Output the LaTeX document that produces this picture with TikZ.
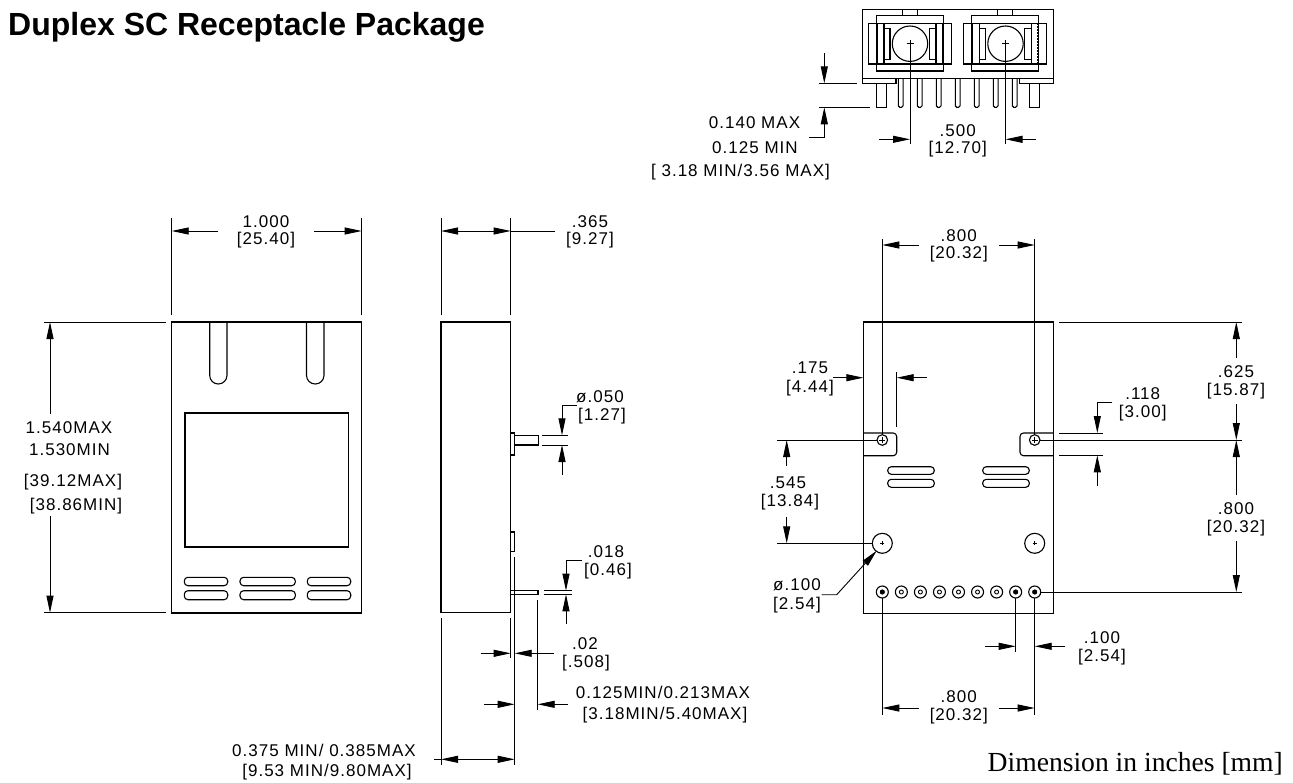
\documentclass[tikz,border=0pt]{standalone}
\usepackage{fontspec}
\setmainfont{Liberation Sans}
\newfontfamily\serifnote{Liberation Serif}
\newfontfamily\dimfont[LetterSpace=6]{Liberation Sans}
\usetikzlibrary{arrows.meta,positioning}

\begin{document}
\begin{tikzpicture}[x=1pt,y=-1pt,>={Stealth[length=17pt,width=7pt,inset=0pt]},
    part/.style={line width=1.1pt}, extl/.style={line width=0.9pt}, dim/.style={extl,->},
    vent/.style={part,rounded corners=3.6pt},
    dimlabel/.style={inner sep=0pt,font=\dimfont\fontsize{17}{19}\selectfont},
    title/.style={inner sep=0pt,anchor=west,font=\bfseries\fontsize{32}{36}\selectfont},
    note/.style={inner sep=0pt,anchor=east,font=\serifnote\fontsize{27.6}{30}\selectfont}]
\useasboundingbox (0,0) rectangle (1293,782);

\node[title] (heading) at (8,27) {Duplex SC Receptacle Package};
\node[note] (units) at (1283,764) {Dimension in inches [mm]};

% front view
\draw[part] (171.7,322) rectangle (361.7,613);
\draw[part,rounded corners=8.6pt] (209.7,322) -- (209.7,384) -- (227,384) -- (227,322);
\draw[part,rounded corners=8.6pt] (306.5,322) -- (306.5,384) -- (324,384) -- (324,322);
\draw[part] (185,413) rectangle (348.7,547);
\foreach \ya/\yb in {577.3/585.7,590.7/599.7} {
  \draw[vent] (184.3,\ya) rectangle (227.7,\yb);
  \draw[vent] (240,\ya) rectangle (295.3,\yb);
  \draw[vent] (307.3,\ya) rectangle (350.7,\yb);
}
\draw[extl] (171.7,218) -- (171.7,315) (361.7,218) -- (361.7,315);
\draw[dim] (218,231) -- (171.7,231);
\draw[dim] (314,231) -- (361.7,231);
\node[dimlabel] (w1) at (266,222) {1.000};
\node[dimlabel] (w2) at (266,240) {[25.40]};
\draw[extl] (44,322) -- (166,322) (44,612.7) -- (166,612.7);
\draw[dim] (50,414) -- (50,322);
\draw[dim] (50,516) -- (50,612.7);
\node[dimlabel] (h1) at (69,428) {1.540MAX};
\node[dimlabel] (h2) at (69.5,450) {1.530MIN};
\node[dimlabel] (h3) at (73,482) {[39.12MAX]};
\node[dimlabel] (h4) at (76,505.6) {[38.86MIN]};

% side view
\draw[part] (441,322) rectangle (510.7,612.7);
\draw[part] (510.7,433) rectangle (514.7,455);
\draw[part] (514.7,435.3) rectangle (538.3,445);
\draw[part] (510.7,532) rectangle (514.7,551.7);
\draw[part] (510.7,590.7) rectangle (538,594.3);
\draw[extl] (441,218) -- (441,315) (510.7,218) -- (510.7,315);
\draw[dim,<->] (441,231) -- (510.7,231);
\draw[extl] (510.7,231) -- (555,231);
\node[dimlabel] (d1) at (590,222) {.365};
\node[dimlabel] (d2) at (590,240) {[9.27]};
\draw[extl] (542,435.3) -- (568,435.3) (542,445) -- (568,445);
\draw[dim] (577.3,405) -- (562,405) -- (562,435.3);
\draw[dim] (562,475) -- (562,445);
\node[dimlabel] (p1) at (600,397) {ø.050};
\node[dimlabel] (p2) at (602,416) {[1.27]};
\draw[extl] (544,590.7) -- (572,590.7) (544,594.3) -- (572,594.3);
\draw[dim] (581.7,560.7) -- (566,560.7) -- (566,590.7);
\draw[dim] (566,624) -- (566,594.3);
\node[dimlabel] (s1) at (606,552) {.018};
\node[dimlabel] (s2) at (608,571) {[0.46]};
\draw[part] (514.7,557) -- (514.7,765);
\draw[extl] (510.7,618) -- (510.7,658);
\draw[dim] (480.7,653.3) -- (510.7,653.3);
\draw[dim] (554,653.3) -- (514.7,653.3);
\node[dimlabel] (t1) at (585,644) {.02};
\node[dimlabel] (t2) at (586,663) {[.508]};
\draw[extl] (537.7,600) -- (537.7,710);
\draw[dim] (484,704.3) -- (514.7,704.3);
\draw[dim] (568,704.3) -- (537.7,704.3);
\node[dimlabel] (l1) at (663,692) {0.125MIN/0.213MAX};
\node[dimlabel] (l2) at (665,715) {[3.18MIN/5.40MAX]};
\draw[extl] (441,618) -- (441,765);
\draw[extl] (434,759.3) -- (441,759.3);
\draw[dim,<->] (441,759.3) -- (514.7,759.3);
\node[dimlabel] (o1) at (324,750) {0.375 MIN/ 0.385MAX};
\node[dimlabel] (o2) at (327,772) {[9.53 MIN/9.80MAX]};

% top view
\draw[part] (862.7,9.3) rectangle (1053.3,78.3);
\draw[part] (862.7,78.3) -- (862.7,83.3) -- (896,83.3) -- (896,78.3);
\draw[part] (1053.3,78.3) -- (1053.3,83.3) -- (1019.3,83.3) -- (1019.3,78.3);
\foreach \dx in {0,95.5} {
  \draw[part] (902.3+\dx,9.3) rectangle (917.3+\dx,15.7);
  \draw[part] (876.3+\dx,15.7) rectangle (943.3+\dx,71);
  \draw[part] (868.3+\dx,23.3) rectangle (951.3+\dx,64);
  \draw[part] (877.3+\dx,23.3) rectangle (884+\dx,64);
  \draw[part] (936+\dx,23.3) rectangle (942.7+\dx,64);
  \draw[part] (884+\dx,28.3) rectangle (890+\dx,59.3);
  \draw[part] (929.3+\dx,28.3) rectangle (936+\dx,59.3);
  \draw[line width=1.6pt] (884+\dx,23.3) -- (936+\dx,23.3) (884+\dx,64) -- (936+\dx,64);
  \draw[part] (910+\dx,43.7) circle (17.7pt);
  \draw[part] (910+\dx-3.5,43.7) -- (910+\dx+3.5,43.7);
}
\draw[extl,dash pattern=on 2pt off 1pt] (1037,23.3) -- (1037,64);
\draw[part] (876.7,83.3) rectangle (886.7,107.3);
\draw[part] (1029.3,83.3) rectangle (1039.3,107.3);
\foreach \cx in {900.7,919.7,938.7,957.7,976.7,995.7,1014.7} {
  \draw[part,rounded corners=1.5pt] (\cx-2.4,79) -- (\cx-2.4,107.3) -- (\cx+2.4,107.3) -- (\cx+2.4,79);
}
\draw[extl] (819.3,83.3) -- (857.3,83.3) (819.3,107.3) -- (870,107.3);
\draw[dim] (824.3,53.3) -- (824.3,83.3);
\draw[dim] (809.3,137.3) -- (824.3,137.3) -- (824.3,107.3);
\node[dimlabel] (m1) at (754.5,122.7) {0.140 MAX};
\node[dimlabel] (m2) at (755,147.7) {0.125 MIN};
\node[dimlabel] (m3) at (740.5,171.7) {[ 3.18 MIN/3.56 MAX]};
\draw[extl] (910,40) -- (910,144) (1005.5,40) -- (1005.5,144);
\draw[dim] (879.3,139.3) -- (910,139.3);
\draw[dim] (1036,139.3) -- (1005.5,139.3);
\node[dimlabel] (c1) at (957.7,130.7) {.500};
\node[dimlabel] (c2) at (957.7,149) {[12.70]};

% back view
\draw[part] (863.3,322) rectangle (1053.3,613.7);
\draw[part,rounded corners=3.5pt] (863.3,433) -- (896.7,433) -- (896.7,455.7) -- (863.3,455.7);
\draw[part,rounded corners=3.5pt] (1053.3,433) -- (1020,433) -- (1020,455.7) -- (1053.3,455.7);
\foreach \ya/\yb in {466.7/474.3,479.3/487.3} {
  \draw[vent] (887.7,\ya) rectangle (934.3,\yb);
  \draw[vent] (982.7,\ya) rectangle (1029.3,\yb);
}
\foreach \cx/\cy/\rr/\ar in {882.3/440/5.3/3,1034.7/440/5.3/3,882.3/543.3/10/2,1034.7/543.3/10/2} {
  \draw[part] (\cx,\cy) circle (\rr pt);
  \draw[extl] (\cx-\ar,\cy) -- (\cx+\ar,\cy) (\cx,\cy-\ar) -- (\cx,\cy+\ar);
}
\foreach \i in {0,...,8} {
  \draw[part] (882.3+19.05*\i,592) circle (6pt);
  \draw[extl] (882.3+19.05*\i,592) circle (2pt);
}
\foreach \i in {0,7,8} {
  \fill (882.3+19.05*\i,592) circle (2.4pt);
}
% back view dimensions
\draw[extl] (882.3,239) -- (882.3,434.7) (1034.7,239) -- (1034.7,434.7);
\draw[dim] (918.8,245) -- (882.3,245);
\draw[dim] (998.8,245) -- (1034.7,245);
\node[dimlabel] (e1) at (958.8,236) {.800};
\node[dimlabel] (e2) at (958.8,254) {[20.32]};
\draw[extl] (896.7,372) -- (896.7,426.7);
\draw[dim] (833,377.7) -- (863.3,377.7);
\draw[dim] (926.7,377.7) -- (896.7,377.7);
\node[dimlabel] (f1) at (810,368) {.175};
\node[dimlabel] (f2) at (810,388) {[4.44]};
\draw[extl] (777,440) -- (877,440) (777,543.3) -- (872.3,543.3);
\draw[dim] (786.7,466) -- (786.7,440);
\draw[dim] (786.7,516.7) -- (786.7,543.3);
\node[dimlabel] (g1) at (788,483) {.545};
\node[dimlabel] (g2) at (790,502) {[13.84]};
\draw[dim] (821.7,594.7) -- (836.7,594.7) -- (876.7,550.7);
\node[dimlabel] (k1) at (797,585) {ø.100};
\node[dimlabel] (k2) at (797,605) {[2.54]};
\draw[extl] (882.3,598) -- (882.3,715) (1034.7,598) -- (1034.7,715);
\draw[extl] (1015.7,598) -- (1015.7,652);
\draw[dim] (918.8,708) -- (882.3,708);
\draw[dim] (998.8,708) -- (1034.7,708);
\node[dimlabel] (q1) at (958.8,697) {.800};
\node[dimlabel] (q2) at (958.8,716) {[20.32]};
\draw[dim] (985,646.3) -- (1015.7,646.3);
\draw[dim] (1065,646.3) -- (1034.7,646.3);
\node[dimlabel] (r1) at (1102,638) {.100};
\node[dimlabel] (r2) at (1102,657) {[2.54]};
\draw[extl] (1059.3,322) -- (1242,322) (1040,440) -- (1242,440) (1040.7,592) -- (1242,592);
\draw[dim] (1236.3,358.3) -- (1236.3,322);
\draw[dim] (1236.3,404.3) -- (1236.3,440);
\draw[dim] (1236.3,495) -- (1236.3,440);
\draw[dim] (1236.3,541) -- (1236.3,592);
\node[dimlabel] (u1) at (1236,372) {.625};
\node[dimlabel] (u2) at (1236,390.7) {[15.87]};
\node[dimlabel] (v1) at (1236,509) {.800};
\node[dimlabel] (v2) at (1236,527.7) {[20.32]};
\draw[extl] (1059,433) -- (1102.7,433) (1059,455.3) -- (1102.7,455.3);
\draw[dim] (1112.3,402.7) -- (1097.3,402.7) -- (1097.3,433);
\draw[dim] (1097.3,485.7) -- (1097.3,455.3);
\node[dimlabel] (n1) at (1142.7,394) {.118};
\node[dimlabel] (n2) at (1142.7,412.7) {[3.00]};
\end{tikzpicture}
\end{document}
